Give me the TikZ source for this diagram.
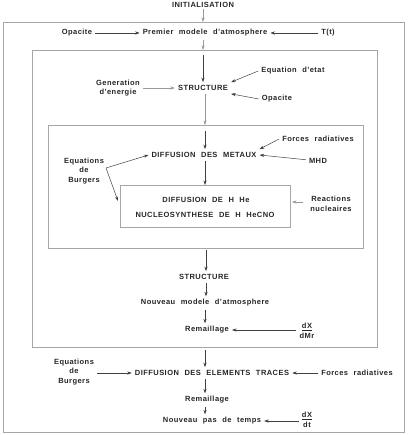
\documentclass[tikz,border=0pt]{standalone}
\usepackage{fontspec}
\setmainfont{Liberation Sans}[LetterSpace=6,WordSpace=2.2]
\usetikzlibrary{arrows.meta}
\begin{document}
\begin{tikzpicture}[x=1pt,y=-1pt,
  txt/.style={font=\bfseries\fontsize{7.5}{9.5}\selectfont,text=black!85,inner sep=3pt,align=center},
  boxst/.style={draw=black!35,line width=0.6pt,inner sep=0pt,outer sep=0pt},
  arr/.style={draw=black!75,line width=0.5pt,-{Stealth[length=4.5pt,width=3.2pt]}},
  garr/.style={draw=black!40,line width=0.5pt,-{Stealth[length=4.5pt,width=3.2pt]}}]
\useasboundingbox (0,0) rectangle (411,435);
% boxes
\node[boxst,minimum width=400.5pt,minimum height=410pt] (box1) at (203.75,227) {};
\node[boxst,minimum width=345pt,minimum height=297pt] (box2) at (204.5,198.5) {};
\node[boxst,minimum width=315pt,minimum height=123pt] (box3) at (205.5,186.5) {};
\node[boxst,minimum width=170pt,minimum height=42pt] (box4) at (205,206) {};
% texts
\node[txt,inner sep=1pt] (init) at (203,4.8) {INITIALISATION};
\node[txt] (opac1) at (77,33) {Opacite};
\node[txt] (prem) at (205,33) {Premier modele d'atmosphere};
\node[txt] (tt) at (328,33) {T(t)};
\node[txt] (struct1) at (203,88) {STRUCTURE};
\node[txt] (gen) at (118,88) {Generation\\d'energie};
\node[txt] (eqetat) at (293,71) {Equation d'etat};
\node[txt] (opac2) at (277,99) {Opacite};
\node[txt] (dmet) at (204,155) {DIFFUSION DES METAUX};
\node[txt] (forces1) at (318,139) {Forces radiatives};
\node[txt] (mhd) at (318,161) {MHD};
\node[txt] (burg1) at (84,171) {Equations\\de\\Burgers};
\coordinate (burgpt) at (106,168);
\node[txt] (dhhe) at (206,200) {DIFFUSION DE H He};
\node[txt] (nucl) at (205,215) {NUCLEOSYNTHESE DE H HeCNO};
\node[txt] (reac) at (331,204) {Reactions\\nucleaires};
\node[txt] (struct2) at (204,277) {STRUCTURE};
\node[txt] (nouv1) at (205,303) {Nouveau modele d'atmosphere};
\node[txt] (rem1) at (207,330) {Remaillage};
\node[txt] (dxdmr) at (307,331) {\underline{dX}\\dMr};
\node[txt] (dtraces) at (212,373) {DIFFUSION DES ELEMENTS TRACES};
\node[txt] (burg2) at (74,372) {Equations\\de\\Burgers};
\node[txt] (forces2) at (357,373) {Forces radiatives};
\node[txt] (rem2) at (207,400) {Remaillage};
\node[txt] (npas) at (212,421) {Nouveau pas de temps};
\node[txt] (dxdt) at (307,420) {\underline{dX}\\dt};
% connectors
\draw[garr] (203,0 |- init.south) -- (203,0 |- box1.north);
\draw[arr] (opac1) -- (prem);
\draw[arr] (tt) -- (prem);
\draw[garr] (203,0 |- prem.south) -- (203,0 |- box2.north);
\draw[arr] ([yshift=-5pt]struct1.north |- box2.north) -- (struct1);
\draw[garr] (gen) -- (struct1);
\draw[arr] (eqetat.west) -- (struct1.north east);
\draw[arr] (opac2.west) -- (struct1.south east);
\draw[garr] (205,0 |- struct1.south) -- (205,0 |- box3.north);
\draw[arr] ([yshift=-6pt]205,0 |- box3.north) -- (205,0 |- dmet.north);
\draw[arr] (forces1.west) -- (dmet.north east);
\draw[arr] (mhd) -- (dmet.east);
\draw[arr] (burgpt) -- (dmet.west);
\draw[arr] (burgpt) -- ([xshift=-2pt]box4.west |- 0,201);
\draw[arr] (205,0 |- dmet.south) -- (205,0 |- box4.north);
\draw[garr] ([xshift=-4pt]reac.west |- 0,202) -- ([xshift=2pt]box4.east |- 0,202);
\draw[arr] ([yshift=-2pt]206,0 |- box3.south) -- (206,0 |- struct2.north);
\draw[arr] (206,0 |- struct2.south) -- (206,0 |- nouv1.north);
\draw[arr] (205,0 |- nouv1.south) -- (205,0 |- rem1.north);
\draw[arr] (dxdmr.west |- 0,330) -- (rem1.east);
\draw[arr] ([yshift=-3pt]205,0 |- box2.south) -- (205,0 |- dtraces.north);
\draw[arr] (burg2.east |- dtraces) -- (dtraces);
\draw[arr] (forces2) -- (dtraces);
\draw[arr] (205,0 |- dtraces.south) -- (205,0 |- rem2.north);
\draw[arr] (205,0 |- rem2.south) -- (205,0 |- npas.north);
\draw[arr] (dxdt.west |- npas) -- (npas);
\end{tikzpicture}
\end{document}
